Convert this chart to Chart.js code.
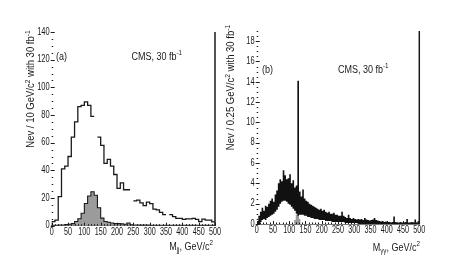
<!DOCTYPE html>
<html>
<head>
<meta charset="utf-8">
<script src="https://cdn.jsdelivr.net/npm/chart.js@4.4.1/dist/chart.umd.min.js"></script>
<style>
html, body { margin: 0; padding: 0; background: #fff; }
#wrap { position: relative; width: 461px; height: 276px; overflow: hidden; background: #fff; }
#chartA { position: absolute; left: 0; top: 0; }
#chartB { position: absolute; left: 220px; top: 0; }
</style>
</head>
<body>
<div id="wrap">
<canvas id="chartA" width="230" height="276"></canvas>
<canvas id="chartB" width="241" height="276"></canvas>
</div>
<script>
// --- (a) M_jj, 10 GeV bins from 0 to 500 (null = line missing in the scan) ---
const binWidthA = 10;
const bkgA = [3, 4, 21, 41, 43, 50, 64, 75, 86, 87,
    89.5, 87, 79, null, 64, 58, 45, 48, 43, 37,
    27, 31, 26, 26, null, 18, 18.5, 16.5, 14.5, 17,
    16, 12, 11.5, 9.7, 8, null, 8, 6.5, 5.3, 5.3,
    4.6, 5, 5, 5.3, 4.6, 3, 4.7, 4, 4, 2.8];
const sigA = [0.3, 0.3, 0.5, 0.5, 0.8, 1, 1.5, 3, 5, 9,
    16, 21.5, 24.5, 22, 13, 5.5, 3, 2.5, 2, 1.5,
    1.5, 1.3, 1, 2, 0.6, 0.5, 0.5, 0.4, 0.4, 0.4,
    0.3, 0.3, 0.3, 0.3, 0.3, 0.3, 0.3, 0.3, 0.3, 0.3,
    0.3, 0.3, 0.3, 0.3, 0.3, 0.3, 0.3, 0.3, 0.3, 0.3];

// --- (b) M_gg, band of the fine histogram per 5 GeV (low / high edge) ---
const binWidthB = 5;
const hiB = [0.3, 0.8, 1.2, 1.6, 1.3, 1.8, 1.7, 2.0, 2.3, 2.5,
    2.2, 2.9, 3.3, 4.0, 4.4, 4.2, 5.3, 4.8, 4.4, 4.5,
    4.9, 4.0, 4.3, 3.6, 3.8, 14.1, 3.2, 2.7, 3.4, 2.5,
    2.3, 2.2, 2.0, 1.9, 1.8, 1.7, 1.6, 1.5, 1.4, 1.5,
    1.3, 1.4, 1.2, 1.1, 1.2, 1.0, 1.0, 1.1, 0.9, 0.9,
    0.8, 0.8, 1.2, 0.8, 0.7, 0.6, 0.9, 0.6, 0.5, 0.6,
    0.5, 0.45, 0.5, 0.45, 0.5, 0.4, 0.6, 0.45, 0.4, 0.35,
    0.4, 0.45, 0.6, 0.4, 0.35, 0.3, 0.25, 0.3, 0.2, 0.25,
    0.2, 0.2, 0.15, 0.2, 0.75, 0.2, 0.15, 0.15, 0.2, 0.15,
    0.15, 0.2, 0.5, 0.15, 0.15, 0.2, 0.15, 0.45, 0.15, 0.3];
const loB = [0, 0, 0.2, 0.4, 0.5, 0.4, 0.6, 0.7, 0.8, 0.9,
    1.0, 1.2, 1.4, 1.7, 2.0, 2.2, 2.3, 2.3, 2.2, 2.0,
    1.9, 1.7, 1.5, 1.3, 1.0, 0.8, 0.9, 0.9, 0.9, 0.8,
    0.8, 0.7, 0.7, 0.6, 0.6, 0.5, 0.5, 0.5, 0.4, 0.4,
    0.4, 0.4, 0.3, 0.3, 0.3, 0.3, 0.2, 0.2, 0.2, 0.2,
    0.2, 0.2, 0.2, 0.2, 0.1, 0.1, 0.1, 0.1, 0.1, 0.1,
    0.1, 0.1, 0, 0, 0, 0, 0, 0, 0, 0,
    0, 0, 0, 0, 0, 0, 0, 0, 0, 0,
    0, 0, 0, 0, 0, 0, 0, 0, 0, 0,
    0, 0, 0, 0, 0, 0, 0, 0, 0, 0];
const sigStartB = 115;
const sigB = [0.4, 0.9, 1.0, 0.5];

const FONT = "'Liberation Sans', Arial, sans-serif";
const INK = "#1a1a1a";

// histogram outline points: two per bin, null breaks the line
function histPoints(values, width, start) {
    const pts = [];
    values.forEach((v, i) => {
        const x0 = start + i * width;
        if (v === null) {
            pts.push({ x: x0, y: null });
            return;
        }
        pts.push({ x: x0, y: v }, { x: x0 + width, y: v });
    });
    return pts;
}

// text with sub/superscripts, squeezed horizontally by sx
function drawRich(ctx, parts, x, y, align, size, sx) {
    ctx.save();
    ctx.translate(x, y);
    ctx.scale(sx, 1);
    const widths = parts.map((p) => {
        ctx.font = (p[1] ? size * 0.7 : size) + "px " + FONT;
        return ctx.measureText(p[0]).width;
    });
    const total = widths.reduce((a, b) => a + b, 0);
    let cx = align === "center" ? -total / 2 : align === "right" ? -total : 0;
    parts.forEach((p, i) => {
        ctx.font = (p[1] ? size * 0.7 : size) + "px " + FONT;
        const dy = p[1] === "sup" ? -size * 0.38 : p[1] === "sub" ? size * 0.3 : 0;
        ctx.fillText(p[0], cx, dy);
        cx += widths[i];
    });
    ctx.restore();
}

// inward ticks, tick labels, right frame line and the labels of each panel
const frameDeco = {
    id: "frameDeco",
    afterDatasetsDraw(chart, args, opts) {
        const { ctx, chartArea: a, scales: { x, y } } = chart;
        ctx.save();
        ctx.strokeStyle = INK;
        ctx.lineWidth = 1;
        const nY = Math.round((y.max - y.min) / opts.yMinor);
        for (let i = 0; i <= nY; i++) {
            const v = y.min + i * opts.yMinor;
            const py = Math.round(y.getPixelForValue(v)) + 0.5;
            const major = Math.abs(v / opts.yMajor - Math.round(v / opts.yMajor)) < 1e-6;
            ctx.beginPath();
            ctx.moveTo(a.left - (major ? 1 : 0), py);
            ctx.lineTo(a.left + (major ? 3 : 1.5), py);
            ctx.stroke();
        }
        const nX = Math.round((x.max - x.min) / opts.xMinor);
        for (let i = 0; i <= nX; i++) {
            const v = x.min + i * opts.xMinor;
            const px = Math.round(x.getPixelForValue(v)) + 0.5;
            const major = v % opts.xMajor === 0;
            ctx.beginPath();
            ctx.moveTo(px, a.bottom);
            ctx.lineTo(px, a.bottom - (major ? 3 : 1.5));
            ctx.stroke();
        }
        ctx.lineWidth = 1.5;
        ctx.beginPath();
        ctx.moveTo(a.right, a.top);
        ctx.lineTo(a.right, a.bottom);
        ctx.stroke();

        ctx.fillStyle = INK;
        ctx.textBaseline = "middle";
        y.ticks.forEach((t) => {
            drawRich(ctx, [[String(t.value)]], a.left - 2, y.getPixelForValue(t.value), "right", 10, 0.75);
        });
        x.ticks.forEach((t) => {
            drawRich(ctx, [[String(t.value)]], x.getPixelForValue(t.value), a.bottom + 6.5, "center", 10, 0.72);
        });
        opts.texts.forEach((t) => {
            if (t.rotate) {
                ctx.save();
                ctx.translate(t.x, t.y);
                ctx.rotate(-Math.PI / 2);
                drawRich(ctx, t.parts, 0, 0, "center", t.size, 0.95);
                ctx.restore();
            } else {
                drawRich(ctx, t.parts, t.x, t.y, t.align || "left", t.size, 0.9);
            }
        });
        ctx.restore();
    },
};

function axisX(height) {
    return {
        type: "linear",
        min: 0,
        max: 500,
        offset: false,
        grid: { display: false, drawTicks: false },
        border: { display: true, color: "#777", width: 1 },
        ticks: { stepSize: 50, display: false },
        afterFit: (s) => { s.height = height; },
    };
}

function axisY(max, step, width) {
    return {
        min: 0,
        max: max,
        grid: { display: false, drawTicks: false },
        border: { display: false },
        ticks: { stepSize: step, includeBounds: false, display: false },
        afterFit: (s) => { s.width = width; },
    };
}

new Chart(document.getElementById("chartA"), {
    type: "line",
    data: {
        datasets: [
            {
                data: [{ x: 0, y: 0 }].concat(histPoints(bkgA, binWidthA, 0)),
                borderColor: INK,
                borderWidth: 1.3,
                fill: false,
                pointRadius: 0,
                spanGaps: false,
                order: 1,
            },
            {
                data: [{ x: 0, y: 0 }].concat(histPoints(sigA, binWidthA, 0), [{ x: 500, y: 0 }]),
                borderColor: INK,
                borderWidth: 1.1,
                backgroundColor: "#9b9b9b",
                fill: "origin",
                pointRadius: 0,
                order: 2,
            },
        ],
    },
    options: {
        responsive: false,
        animation: false,
        layout: { padding: { left: 0, right: 15, top: 32, bottom: 0 } },
        plugins: {
            legend: { display: false },
            tooltip: { enabled: false },
            frameDeco: {
                yMajor: 20, yMinor: 5, xMajor: 50, xMinor: 10,
                texts: [
                    { x: 31.7, y: 89, rotate: true, size: 10,
                      parts: [["Nev / 10 GeV/c"], ["2", "sup"], [" with 30 fb"], ["-1", "sup"]] },
                    { x: 56, y: 57, size: 10, parts: [["(a)"]] },
                    { x: 131.5, y: 57, size: 10, parts: [["CMS, 30 fb"], ["-1", "sup"]] },
                    { x: 213, y: 247, size: 10, align: "right",
                      parts: [["M"], ["jj", "sub"], [", GeV/c"], ["2", "sup"]] },
                ],
            },
        },
        scales: { x: axisX(50.3), y: axisY(140, 20, 51.7) },
    },
    plugins: [frameDeco],
});

new Chart(document.getElementById("chartB"), {
    type: "line",
    data: {
        datasets: [
            {
                data: histPoints(hiB, binWidthB, 0),
                borderWidth: 0,
                backgroundColor: "#111",
                fill: "+1",
                pointRadius: 0,
                order: 1,
            },
            {
                data: histPoints(loB, binWidthB, 0),
                borderWidth: 0,
                fill: false,
                pointRadius: 0,
                order: 2,
            },
            {
                data: histPoints(sigB, binWidthB, sigStartB),
                borderWidth: 0,
                backgroundColor: "#9b9b9b",
                fill: "origin",
                pointRadius: 0,
                order: 3,
            },
        ],
    },
    options: {
        responsive: false,
        animation: false,
        layout: { padding: { left: 0, right: 41.7, top: 31, bottom: 0 } },
        plugins: {
            legend: { display: false },
            tooltip: { enabled: false },
            frameDeco: {
                yMajor: 2, yMinor: 0.5, xMajor: 50, xMinor: 10,
                texts: [
                    { x: 11.7, y: 87.5, rotate: true, size: 10,
                      parts: [["Nev / 0.25 GeV/c"], ["2", "sup"], [" with 30 fb"], ["-1", "sup"]] },
                    { x: 42, y: 70, size: 10, parts: [["(b)"]] },
                    { x: 118, y: 70, size: 10, parts: [["CMS, 30 fb"], ["-1", "sup"]] },
                    { x: 200, y: 248, size: 10, align: "right",
                      parts: [["M"], ["\u03b3\u03b3", "sub"], [", GeV/c"], ["2", "sup"]] },
                ],
            },
        },
        scales: { x: axisX(52), y: axisY(19, 2, 36.7) },
    },
    plugins: [frameDeco],
});
</script>
</body>
</html>
